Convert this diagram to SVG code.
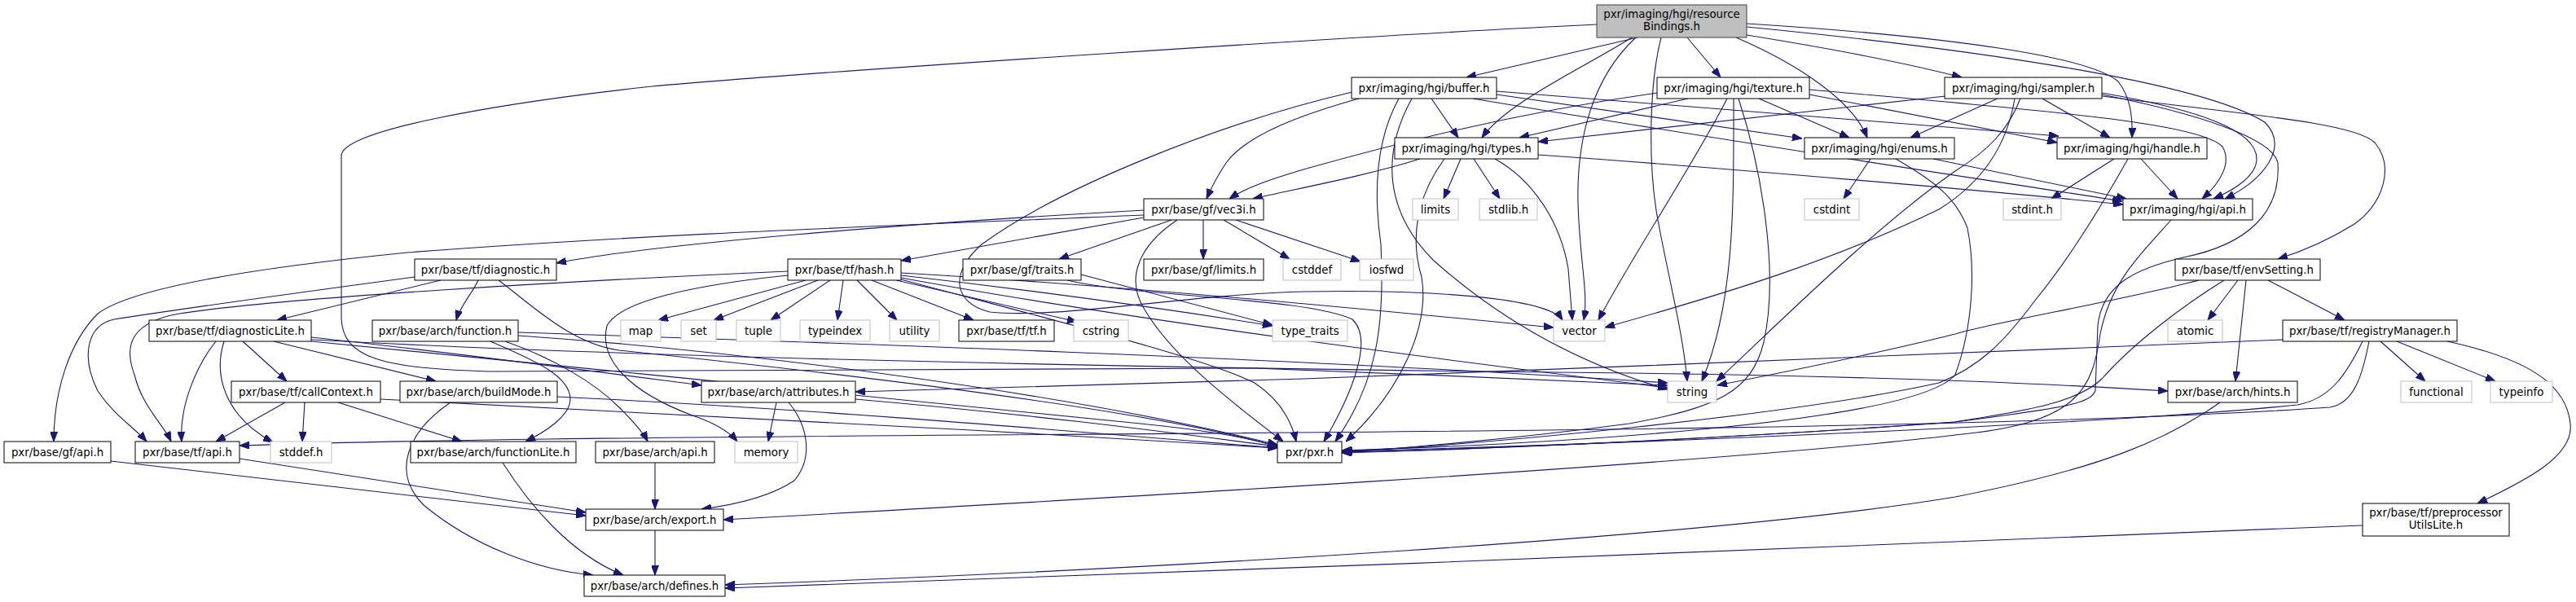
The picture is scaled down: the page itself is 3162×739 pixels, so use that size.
<svg xmlns="http://www.w3.org/2000/svg" width="3162" height="739" viewBox="0 0 3162 739">
<defs>
<marker id="a" markerUnits="userSpaceOnUse" viewBox="0 0 12 9" markerWidth="12" markerHeight="9" refX="12" refY="4.5" orient="auto"><path d="M0,0L12,4.5L0,9z" fill="#191970" stroke="#191970" stroke-width="1"/></marker>
<style>
.e path{fill:none;stroke:#191970;stroke-width:1.1;marker-end:url(#a)}
.n rect{fill:#fff;stroke:#000;stroke-width:1}
.s rect{fill:#fff;stroke:#bfbfbf;stroke-width:1}
.r rect{fill:#bfbfbf;stroke:#404040;stroke-width:1}
text{font-family:"DejaVu Sans","Liberation Sans",sans-serif;font-size:13.33px;text-anchor:middle;fill:#000}
</style>
</defs>
<rect width="3162" height="739" fill="#fff"/>
<g id="edges" class="e">
<path d="M2010,46 L1800,95"/>
<path d="M2003,46 C1950,80 1850,125 1819,169"/>
<path d="M2008,46 C1955,95 1935,170 1937,250 C1939,320 1950,360 1944,393"/>
<path d="M2039,46 C2025,100 2022,200 2035,270 C2050,350 2066,410 2071,468"/>
<path d="M2071,46 L2112,95"/>
<path d="M2131,46 C2210,80 2275,125 2292,169"/>
<path d="M2144,43 C2250,60 2350,80 2408,95"/>
<path d="M2144,29 C2400,45 2565,70 2600,100 C2614,118 2618,140 2617,169"/>
<path d="M2144,33 C2420,60 2700,100 2780,150 C2810,180 2780,220 2731,244"/>
<path d="M1960,30 C1700,42 1000,88 800,106 C600,128 425,160 419,190 L419,390 C420,440 470,452 600,456 C1000,455 1400,450 1540,452 C1700,458 1900,466 2047,473"/>
<path d="M1668,121 C1600,140 1530,165 1505,200 C1495,215 1487,230 1481,244"/>
<path d="M1757,121 L1790,169"/>
<path d="M1837,116 L2212,170"/>
<path d="M1837,112 L2527,167"/>
<path d="M1808,121 C2100,170 2400,215 2605,247"/>
<path d="M1717,121 C1690,170 1685,230 1695,300 C1700,400 1690,470 1639,542"/>
<path d="M1660,113 C1500,150 1300,230 1205,300 C1165,335 1170,372 1215,383 C1300,392 1450,362 1600,358 C1750,355 1900,365 1918,393"/>
<path d="M1733,121 C1695,190 1700,260 1760,320 C1850,400 1950,450 2047,478"/>
<path d="M2034,114 C1850,140 1700,180 1600,208 C1560,220 1530,230 1509,244"/>
<path d="M2072,121 L1865,169"/>
<path d="M2159,121 L2270,169"/>
<path d="M2221,116 L2525,175"/>
<path d="M2221,110 C2500,135 2700,150 2728,180 C2740,200 2725,225 2703,244"/>
<path d="M2120,121 C2080,200 2000,320 1962,393"/>
<path d="M2128,121 C2128,250 2130,370 2089,468"/>
<path d="M2134,121 C2160,200 2185,330 2165,420 C2150,480 2110,500 2000,520 C1850,540 1700,552 1647,555"/>
<path d="M2388,118 L1888,174"/>
<path d="M2452,121 L2345,169"/>
<path d="M2507,121 L2590,169"/>
<path d="M2580,114 C2700,135 2770,160 2770,195 C2770,215 2745,232 2717,244"/>
<path d="M2580,118 C2750,140 2890,150 2915,175 C2940,205 2925,250 2890,275 C2850,300 2815,312 2796,318"/>
<path d="M2580,116 C2700,140 2790,170 2796,200 C2800,260 2760,300 2680,316 C2620,330 2580,350 2575,400 L2572,480 C2565,495 2540,500 2400,518 C2100,540 1800,552 1647,556"/>
<path d="M2473,121 C2465,170 2440,220 2380,257 C2250,320 2120,360 1970,402"/>
<path d="M2480,121 C2465,160 2440,185 2400,210 C2300,280 2180,400 2107,468"/>
<path d="M1743,195 C1680,215 1600,230 1538,244"/>
<path d="M1793,195 L1772,244"/>
<path d="M1809,195 L1841,244"/>
<path d="M1835,195 C1880,220 1915,270 1925,330 L1930,393"/>
<path d="M1888,190 C2100,205 2450,235 2606,251"/>
<path d="M1773,195 C1740,240 1730,290 1745,340 C1755,400 1720,480 1652,542"/>
<path d="M2296,195 L2263,244"/>
<path d="M2373,195 L2610,244"/>
<path d="M2327,195 C2370,220 2400,240 2415,280 C2425,330 2422,400 2400,460 C2350,520 1900,545 1647,553"/>
<path d="M2595,195 L2518,244"/>
<path d="M2628,195 L2673,244"/>
<path d="M2612,195 C2570,270 2530,330 2497,370 C2460,420 2430,450 2380,470 C2200,510 1800,548 1647,554"/>
<path d="M2665,270 C2620,320 2590,350 2578,410 C2568,480 2550,520 2400,534 C2100,570 1300,615 888,638"/>
<path d="M1404,258 C1100,275 800,300 683,323"/>
<path d="M1404,264 C1100,277 800,287 500,310 C300,330 160,355 120,385 C85,420 66,480 66,542"/>
<path d="M1404,267 L1106,320"/>
<path d="M1438,270 L1300,318"/>
<path d="M1477,270 L1477,318"/>
<path d="M1502,270 L1583,318"/>
<path d="M1517,270 L1670,321"/>
<path d="M1445,270 C1400,300 1380,340 1405,380 C1440,440 1520,500 1575,542"/>
<path d="M509,340 C420,352 250,375 140,392 C105,400 100,440 120,480 C140,510 165,525 180,542"/>
<path d="M541,344 L340,393"/>
<path d="M587,344 C580,360 565,375 560,393"/>
<path d="M612,344 C650,372 700,422 760,430 C1000,455 1400,500 1568,548"/>
<path d="M989,344 L808,393"/>
<path d="M1004,344 L876,393"/>
<path d="M1019,344 L946,393"/>
<path d="M1035,344 L1028,393"/>
<path d="M1052,344 L1101,393"/>
<path d="M1070,344 L1195,393"/>
<path d="M1100,344 L1322,395"/>
<path d="M1106,338 C1300,360 1450,382 1562,400"/>
<path d="M1106,335 C1400,352 1700,382 1907,402"/>
<path d="M1106,341 C1400,395 1800,445 2047,476"/>
<path d="M1106,343 C1300,395 1480,440 1540,470 C1570,490 1585,515 1591,542"/>
<path d="M967,338 C850,350 760,370 745,400 C735,440 770,480 850,510 C880,520 895,530 905,542"/>
<path d="M967,333 C700,345 350,365 220,385 C165,395 150,420 165,460 C175,500 200,520 210,542"/>
<path d="M1327,337 L1562,399"/>
<path d="M1310,344 C1400,365 1600,365 1660,392 C1690,420 1650,500 1625,542"/>
<path d="M2699,344 C2600,370 2450,395 2400,410 C2300,435 2200,455 2108,473"/>
<path d="M2730,344 C2680,375 2620,420 2580,465 C2550,495 2480,505 2400,518 C2100,540 1800,552 1648,555"/>
<path d="M2747,344 L2710,393"/>
<path d="M2757,344 L2744,468"/>
<path d="M2784,344 L2878,393"/>
<path d="M2802,417 C2500,430 2000,450 1600,465 C1300,472 1150,478 1050,481"/>
<path d="M2900,419 C2880,460 2860,490 2820,497 C2600,520 2000,545 1648,554"/>
<path d="M2908,419 C2900,460 2890,495 2860,500 C2500,525 1800,530 1200,534 C800,537 500,540 294,547"/>
<path d="M2922,419 L2977,468"/>
<path d="M2942,419 L3063,468"/>
<path d="M3004,419 C3100,440 3150,470 3155,520 C3160,560 3100,590 3041,618"/>
<path d="M2725,494 C2660,540 2580,575 2400,610 C2100,660 1400,700 890,718"/>
<path d="M2900,645 C2500,665 1500,700 890,722"/>
<path d="M265,419 C240,450 220,500 223,542"/>
<path d="M275,419 C262,460 275,510 335,543"/>
<path d="M298,419 L352,468"/>
<path d="M336,419 L535,468"/>
<path d="M382,414 C550,432 700,452 861,473"/>
<path d="M382,417 C900,445 1700,455 2000,458 C2300,462 2500,470 2661,480"/>
<path d="M382,419 C700,450 1200,500 1400,520 C1500,530 1540,540 1568,548"/>
<path d="M620,419 C680,440 730,470 760,500 C780,520 790,532 795,542"/>
<path d="M602,419 C650,440 700,460 700,490 C700,510 670,530 645,542"/>
<path d="M636,412 C900,430 1300,480 1568,546"/>
<path d="M636,408 C1000,420 1600,440 2047,470"/>
<path d="M350,494 L265,542"/>
<path d="M374,494 L371,542"/>
<path d="M415,494 L567,542"/>
<path d="M467,490 C800,505 1200,528 1568,550"/>
<path d="M684,487 C1000,502 1300,528 1568,550"/>
<path d="M553,494 C500,530 480,580 520,620 C580,670 660,700 728,706"/>
<path d="M617,568 C650,620 700,680 765,706"/>
<path d="M804,568 L804,625"/>
<path d="M804,651 L804,706"/>
<path d="M136,566 L719,633"/>
<path d="M294,563 L719,629"/>
<path d="M953,494 L943,542"/>
<path d="M968,494 C990,520 1000,560 975,590 C945,610 900,620 861,625"/>
<path d="M1050,490 C1300,512 1450,533 1568,548"/>
</g>
<g id="root" class="r"><rect x="1960" y="6" width="184" height="40"/><text x="2052" y="22">pxr/imaging/hgi/resource</text><text x="2052" y="37">Bindings.h</text></g>
<g id="buffer" class="n"><rect x="1659" y="95" width="178" height="26"/><text x="1748" y="112.5">pxr/imaging/hgi/buffer.h</text></g>
<g id="texture" class="n"><rect x="2034" y="95" width="187" height="26"/><text x="2127.5" y="112.5">pxr/imaging/hgi/texture.h</text></g>
<g id="sampler" class="n"><rect x="2387" y="95" width="193" height="26"/><text x="2483.5" y="112.5">pxr/imaging/hgi/sampler.h</text></g>
<g id="types" class="n"><rect x="1712" y="169" width="176" height="26"/><text x="1800" y="186.5">pxr/imaging/hgi/types.h</text></g>
<g id="enums" class="n"><rect x="2215" y="169" width="184" height="26"/><text x="2307" y="186.5">pxr/imaging/hgi/enums.h</text></g>
<g id="handle" class="n"><rect x="2525" y="169" width="184" height="26"/><text x="2617" y="186.5">pxr/imaging/hgi/handle.h</text></g>
<g id="limits" class="s"><rect x="1734" y="244" width="56" height="26"/><text x="1762" y="261.5">limits</text></g>
<g id="stdlib" class="s"><rect x="1816" y="244" width="71" height="26"/><text x="1851.5" y="261.5">stdlib.h</text></g>
<g id="cstdint" class="s"><rect x="2215" y="244" width="67" height="26"/><text x="2248.5" y="261.5">cstdint</text></g>
<g id="stdint" class="s"><rect x="2459" y="244" width="71" height="26"/><text x="2494.5" y="261.5">stdint.h</text></g>
<g id="hgiapi" class="n"><rect x="2606" y="244" width="159" height="26"/><text x="2685.5" y="261.5">pxr/imaging/hgi/api.h</text></g>
<g id="vec3i" class="n"><rect x="1404" y="244" width="147" height="26"/><text x="1477.5" y="261.5">pxr/base/gf/vec3i.h</text></g>
<g id="diagnostic" class="n"><rect x="509" y="318" width="174" height="26"/><text x="596" y="335.5">pxr/base/tf/diagnostic.h</text></g>
<g id="hash" class="n"><rect x="967" y="318" width="139" height="26"/><text x="1036.5" y="335.5">pxr/base/tf/hash.h</text></g>
<g id="traits" class="n"><rect x="1182" y="318" width="145" height="26"/><text x="1254.5" y="335.5">pxr/base/gf/traits.h</text></g>
<g id="gflimits" class="n"><rect x="1404" y="318" width="147" height="26"/><text x="1477.5" y="335.5">pxr/base/gf/limits.h</text></g>
<g id="cstddef" class="s"><rect x="1575" y="318" width="71" height="26"/><text x="1610.5" y="335.5">cstddef</text></g>
<g id="iosfwd" class="s"><rect x="1669" y="318" width="66" height="26"/><text x="1702" y="335.5">iosfwd</text></g>
<g id="envSetting" class="n"><rect x="2670" y="318" width="178" height="26"/><text x="2759" y="335.5">pxr/base/tf/envSetting.h</text></g>
<g id="diagnosticLite" class="n"><rect x="183" y="393" width="199" height="26"/><text x="282.5" y="410.5">pxr/base/tf/diagnosticLite.h</text></g>
<g id="function" class="n"><rect x="457" y="393" width="179" height="26"/><text x="546.5" y="410.5">pxr/base/arch/function.h</text></g>
<g id="map" class="s"><rect x="762" y="393" width="49" height="26"/><text x="786.5" y="410.5">map</text></g>
<g id="set" class="s"><rect x="836" y="393" width="43" height="26"/><text x="857.5" y="410.5">set</text></g>
<g id="tuple" class="s"><rect x="904" y="393" width="54" height="26"/><text x="931" y="410.5">tuple</text></g>
<g id="typeindex" class="s"><rect x="982" y="393" width="86" height="26"/><text x="1025" y="410.5">typeindex</text></g>
<g id="utility" class="s"><rect x="1092" y="393" width="61" height="26"/><text x="1122.5" y="410.5">utility</text></g>
<g id="tfh" class="n"><rect x="1177" y="393" width="117" height="26"/><text x="1235.5" y="410.5">pxr/base/tf/tf.h</text></g>
<g id="cstring" class="s"><rect x="1318" y="393" width="67" height="26"/><text x="1351.5" y="410.5">cstring</text></g>
<g id="type_traits" class="s"><rect x="1562" y="393" width="92" height="26"/><text x="1608" y="410.5">type_traits</text></g>
<g id="vector" class="s"><rect x="1907" y="393" width="63" height="26"/><text x="1938.5" y="410.5">vector</text></g>
<g id="atomic" class="s"><rect x="2661" y="393" width="67" height="26"/><text x="2694.5" y="410.5">atomic</text></g>
<g id="registryManager" class="n"><rect x="2802" y="393" width="214" height="26"/><text x="2909" y="410.5">pxr/base/tf/registryManager.h</text></g>
<g id="callContext" class="n"><rect x="284" y="468" width="183" height="26"/><text x="375.5" y="485.5">pxr/base/tf/callContext.h</text></g>
<g id="buildMode" class="n"><rect x="491" y="468" width="193" height="26"/><text x="587.5" y="485.5">pxr/base/arch/buildMode.h</text></g>
<g id="attributes" class="n"><rect x="861" y="468" width="189" height="26"/><text x="955.5" y="485.5">pxr/base/arch/attributes.h</text></g>
<g id="string" class="s"><rect x="2047" y="468" width="60" height="26"/><text x="2077" y="485.5">string</text></g>
<g id="hints" class="n"><rect x="2661" y="468" width="159" height="26"/><text x="2740.5" y="485.5">pxr/base/arch/hints.h</text></g>
<g id="functional" class="s"><rect x="2947" y="468" width="87" height="26"/><text x="2990.5" y="485.5">functional</text></g>
<g id="typeinfo" class="s"><rect x="3057" y="468" width="76" height="26"/><text x="3095" y="485.5">typeinfo</text></g>
<g id="gfapi" class="n"><rect x="5" y="542" width="131" height="26"/><text x="70.5" y="559.5">pxr/base/gf/api.h</text></g>
<g id="tfapi" class="n"><rect x="166" y="542" width="128" height="26"/><text x="230" y="559.5">pxr/base/tf/api.h</text></g>
<g id="stddef" class="s"><rect x="332" y="542" width="75" height="26"/><text x="369.5" y="559.5">stddef.h</text></g>
<g id="functionLite" class="n"><rect x="504" y="542" width="203" height="26"/><text x="605.5" y="559.5">pxr/base/arch/functionLite.h</text></g>
<g id="archapi" class="n"><rect x="731" y="542" width="146" height="26"/><text x="804" y="559.5">pxr/base/arch/api.h</text></g>
<g id="memory" class="s"><rect x="902" y="542" width="77" height="26"/><text x="940.5" y="559.5">memory</text></g>
<g id="pxr" class="n"><rect x="1568" y="542" width="79" height="26"/><text x="1607.5" y="559.5">pxr/pxr.h</text></g>
<g id="export" class="n"><rect x="719" y="625" width="169" height="26"/><text x="803.5" y="642.5">pxr/base/arch/export.h</text></g>
<g id="preprocessorUtilsLite" class="n"><rect x="2900" y="618" width="180" height="40"/><text x="2990" y="634">pxr/base/tf/preprocessor</text><text x="2990" y="649">UtilsLite.h</text></g>
<g id="defines" class="n"><rect x="717" y="706" width="173" height="26"/><text x="803.5" y="723.5">pxr/base/arch/defines.h</text></g>
</svg>
